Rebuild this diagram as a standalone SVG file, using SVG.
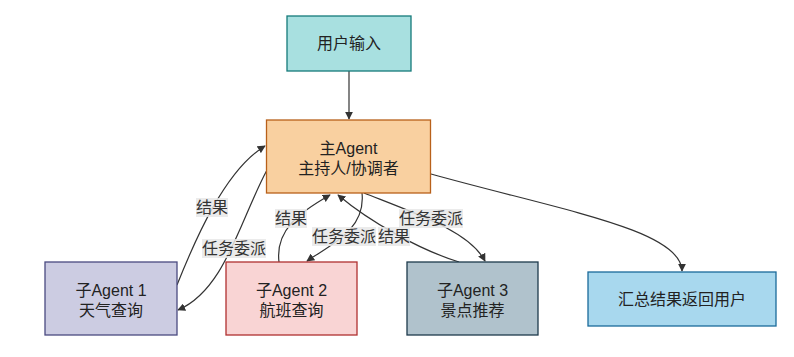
<svg xmlns="http://www.w3.org/2000/svg" width="794" height="357" viewBox="0 0 794 357">
<style>
text{font-family:"Liberation Sans","Noto Sans CJK SC",sans-serif;font-size:16px;fill:#222;text-anchor:middle;dominant-baseline:central}
.edge{fill:none;stroke:#333;stroke-width:1.2}
.lbl rect{fill:#e8e8e8;opacity:0.85}
.lbl text{fill:#333}
.node rect{stroke-width:1.3}
</style>
<defs>
<marker id="arr" viewBox="0 0 10 10" refX="9" refY="5" markerWidth="8" markerHeight="8" orient="auto" markerUnits="userSpaceOnUse">
<path d="M0,0 L10,5 L0,10 z" fill="#333"/>
</marker>
</defs>
<g id="connectors">
<path class="edge" marker-end="url(#arr)" d="M349,71 L349,119"/>
<path class="edge" marker-end="url(#arr)" d="M177,285 C195,240 225,170 265,146"/>
<path class="edge" marker-end="url(#arr)" d="M267,170 C240,220 225,290 178,310"/>
<path class="edge" marker-end="url(#arr)" d="M279,262 C275,230 300,212 330,195"/>
<path class="edge" marker-end="url(#arr)" d="M362,193 C366,230 330,245 307,261"/>
<path class="edge" marker-end="url(#arr)" d="M459,262 C420,250 370,222 338,195"/>
<path class="edge" marker-end="url(#arr)" d="M364,193 C420,215 470,232 485,261"/>
<path class="edge" marker-end="url(#arr)" d="M431,174 C560,210 682,230 682,271"/>
</g>
<g id="edge-labels">
<g class="lbl"><rect x="196" y="198" width="32" height="19"/><text x="212" y="207">结果</text></g>
<g class="lbl"><rect x="202" y="239" width="64" height="19"/><text x="234" y="248">任务委派</text></g>
<g class="lbl"><rect x="275" y="209" width="32" height="19"/><text x="291" y="218">结果</text></g>
<g class="lbl"><rect x="312" y="227" width="64" height="19"/><text x="344" y="236">任务委派</text></g>
<g class="lbl"><rect x="378" y="227" width="32" height="19"/><text x="394" y="236">结果</text></g>
<g class="lbl"><rect x="399" y="209" width="64" height="19"/><text x="431" y="218">任务委派</text></g>
</g>
<g id="user-input" class="node"><rect x="287" y="16" width="124" height="55" fill="#a8e0e0" stroke="#147a7a"/><text x="349" y="43">用户输入</text></g>
<g id="main-agent" class="node"><rect x="266.5" y="120" width="164" height="73" fill="#f9d0a0" stroke="#b8601a"/><text x="348.5" y="148">主Agent</text><text x="348.5" y="168">主持人/协调者</text></g>
<g id="agent1" class="node"><rect x="45" y="262" width="132" height="73" fill="#cccce2" stroke="#4a4a80"/><text x="111" y="290">子Agent 1</text><text x="111" y="310">天气查询</text></g>
<g id="agent2" class="node"><rect x="226" y="262" width="131" height="73" fill="#f9d4d4" stroke="#b03030"/><text x="291.5" y="290">子Agent 2</text><text x="291.5" y="310">航班查询</text></g>
<g id="agent3" class="node"><rect x="407" y="262" width="131" height="73" fill="#b0c2cc" stroke="#1e3a4c"/><text x="472.5" y="290">子Agent 3</text><text x="472.5" y="310">景点推荐</text></g>
<g id="summary" class="node"><rect x="588" y="272" width="188" height="54" fill="#a8d8ee" stroke="#1a6a9a"/><text x="682" y="299">汇总结果返回用户</text></g>
</svg>
